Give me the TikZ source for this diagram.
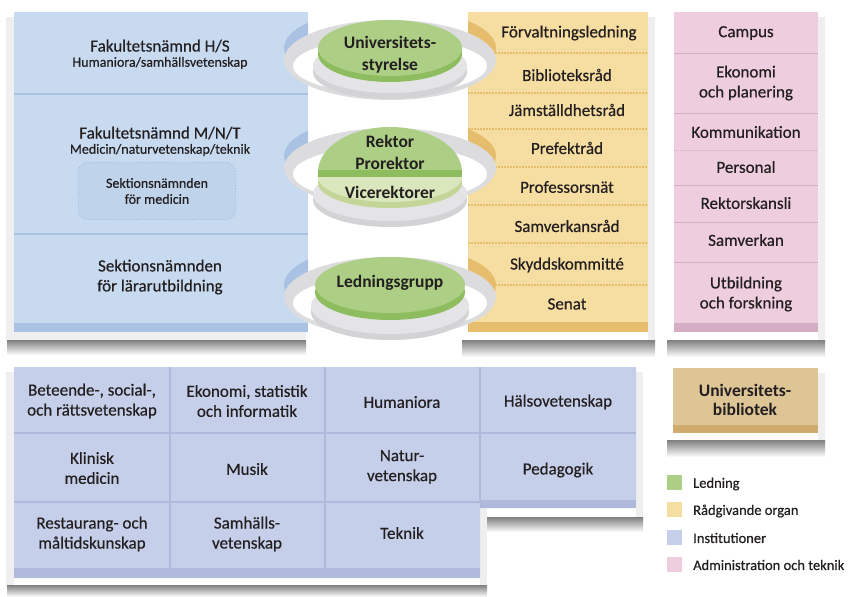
\documentclass[tikz,border=0pt]{standalone}
\usepackage{fontspec}
\setmainfont{Carlito}
\newfontfamily\medfont{Carlito}[FakeBold=0.5]

\definecolor{ink}{HTML}{231F20}
\definecolor{fakblue}{HTML}{C7DAEF}
\definecolor{fakband}{HTML}{A9C1E2}
\definecolor{fakbox}{HTML}{BFD3EB}
\definecolor{fakdot}{HTML}{9FB7D8}
\definecolor{radyellow}{HTML}{F6DDA1}
\definecolor{radband}{HTML}{E6BD6C}
\definecolor{admpink}{HTML}{EECDDE}
\definecolor{admband}{HTML}{D5ADC4}
\definecolor{instblue}{HTML}{C6CFE9}
\definecolor{instband}{HTML}{AEB9DB}
\definecolor{libtan}{HTML}{DEC596}
\definecolor{libband}{HTML}{CFAC6E}
\definecolor{ledgreen}{HTML}{ADCF85}
\definecolor{ledrim}{HTML}{8DBD5F}
\definecolor{vicegreen}{HTML}{DAE7BC}
\definecolor{vicerim}{HTML}{C3D597}
\definecolor{shade}{HTML}{E2E2E4}
\definecolor{shadelite}{HTML}{EFEFF0}
\definecolor{basetop}{HTML}{E4E4E6}
\definecolor{baseside}{HTML}{D3D3D6}
\definecolor{ring}{HTML}{DCDCDF}

\tikzset{
  lbl/.style={align=center, text=ink, inner sep=0pt, font=\medfont\fontsize{17}{20}\selectfont},
  sublbl/.style={lbl, font=\medfont\fontsize{14}{16}\selectfont},
  disklbl/.style={lbl, font=\bfseries\fontsize{17.5}{22}\selectfont},
  leglbl/.style={anchor=west, text=ink, inner sep=0pt, font=\medfont\fontsize{14.5}{16}\selectfont},
  legsq/.style={minimum size=15pt, inner sep=0pt},
}

\begin{document}
\begin{tikzpicture}[x=1pt,y=-1pt]
\useasboundingbox[fill=white] (0,0) rectangle (849,597);

% shadows of the upper panels
\fill[shadelite] (6,17) rectangle (14,340);
\fill[shadelite] (6,332) rectangle (306,340);
\fill[shade] (7,340) rectangle (306,355);
\fill[shadelite] (648,17) rectangle (655,340);
\fill[shade] (462,340) rectangle (655,357);
\fill[shadelite] (818,17) rectangle (825,340);
\fill[shade] (667,340) rectangle (825,357);

% faculty panel
\fill[fakblue] (14,12) rectangle (308,332);
\fill[fakband] (14,323) rectangle (308,332);
\draw[fakband, line width=1.3] (14,94) -- (308,94);
\draw[fakband, line width=1.3] (14,234) -- (308,234);

% advisory panel
\fill[radyellow] (468,12) rectangle (648,332);
\fill[radband] (468,322) rectangle (648,332);
\draw[radband, line width=1.3, dash pattern=on 2pt off 1pt] (468,53) -- (648,53);
\draw[radband, line width=1.3, dash pattern=on 2pt off 1pt] (468,93) -- (648,93);
\draw[radband, line width=1.3, dash pattern=on 2pt off 1pt] (468,129) -- (648,129);
\draw[radband, line width=1.3, dash pattern=on 2pt off 1pt] (468,167) -- (648,167);
\draw[radband, line width=1.3, dash pattern=on 2pt off 1pt] (468,205) -- (648,205);
\draw[radband, line width=1.3, dash pattern=on 2pt off 1pt] (468,243) -- (648,243);
\draw[radband, line width=1.3, dash pattern=on 2pt off 1pt] (468,285) -- (648,285);

% administration panel
\fill[admpink] (674,12) rectangle (818,332);
\fill[admband] (674,323) rectangle (818,332);
\draw[admband, line width=1] (674,53) -- (818,53);
\draw[admband, line width=1] (674,113) -- (818,113);
\draw[admband, line width=1, dash pattern=on 1pt off 1pt] (674,150) -- (818,150);
\draw[admband, line width=1] (674,185) -- (818,185);
\draw[admband, line width=1] (674,222) -- (818,222);
\draw[admband, line width=1] (674,262) -- (818,262);

% tabs where the rings go through the panels
\begin{scope}
\clip (14,12) rectangle (308,332);
\fill[fakband] (390,48) ellipse [x radius=106pt, y radius=40pt];
\fill[fakband] (390,156) ellipse [x radius=106pt, y radius=40pt];
\fill[fakband] (390,285) ellipse [x radius=106pt, y radius=40pt];
\end{scope}
\begin{scope}
\clip (468,12) rectangle (648,332);
\fill[radband] (390,48) ellipse [x radius=106pt, y radius=40pt];
\fill[radband] (390,156) ellipse [x radius=106pt, y radius=40pt];
\fill[radband] (390,285) ellipse [x radius=106pt, y radius=40pt];
\end{scope}

% rings
\fill[ring] (390,60) ellipse [x radius=106pt, y radius=40pt];
\fill[white] (390,66) ellipse [x radius=97pt, y radius=28pt];
\fill[ring] (390,168) ellipse [x radius=106pt, y radius=40pt];
\fill[white] (390,174) ellipse [x radius=97pt, y radius=28pt];
\fill[ring] (390,297) ellipse [x radius=106pt, y radius=40pt];
\fill[white] (390,303) ellipse [x radius=97pt, y radius=28pt];

% disk bases
\fill[baseside] (390,72) ellipse [x radius=77pt, y radius=27pt];
\fill[basetop] (390,66) ellipse [x radius=77pt, y radius=27pt];
\fill[baseside] (390,200) ellipse [x radius=77pt, y radius=27pt];
\fill[basetop] (390,194) ellipse [x radius=77pt, y radius=27pt];
\fill[baseside] (390,312) ellipse [x radius=79pt, y radius=28pt];
\fill[basetop] (390,306) ellipse [x radius=79pt, y radius=28pt];

% disks
\fill[ledrim] (390,54) ellipse [x radius=72pt, y radius=28pt];
\fill[ledgreen] (390,48) ellipse [x radius=72pt, y radius=28pt];

\fill[vicerim] (390,183) ellipse [x radius=72pt, y radius=25pt];
\fill[vicegreen] (390,177) ellipse [x radius=72pt, y radius=25pt];
\begin{scope}
\clip (300,100) rectangle (480,172);
\fill[ledgreen] (390,172) ellipse [x radius=72pt, y radius=45pt];
\end{scope}
\fill[ledrim] (318,170) rectangle (462,177);

\fill[ledrim] (390,292) ellipse [x radius=75pt, y radius=28pt];
\fill[ledgreen] (390,285) ellipse [x radius=75pt, y radius=28pt];

\node[disklbl] (Us)  at (390,55)  {Universitets-\\styrelse};
\node[disklbl] (Rp)  at (390,152) {Rektor\\Prorektor};
\node[disklbl] (Vr)  at (390,192) {Vicerektorer};
\node[disklbl] (Lg)  at (390,283) {Ledningsgrupp};

% faculty texts
\node[lbl] (Fhs)  at (160,46)  {Fakultetsnämnd H/S};
\node[sublbl] (Hs)  at (160,63)  {Humaniora/samhällsvetenskap};
\node[lbl] (Fmnt) at (160,133) {Fakultetsnämnd M/N/T};
\node[sublbl] (Mnt) at (160,150) {Medicin/naturvetenskap/teknik};
\node[sublbl, fill=fakbox, draw=fakdot, dotted, line width=0.8pt, rounded corners=9pt,
      minimum width=157pt, minimum height=57pt] (Smed) at (157,191)
      {Sektionsnämnden\\för medicin};
\node[lbl] (Slu)  at (160,277) {Sektionsnämnden\\för lärarutbildning};

% advisory texts
\node[lbl] (Fl)  at (569,33)  {Förvaltningsledning};
\node[lbl] (Br)  at (567,75)  {Biblioteksråd};
\node[lbl] (Jr)  at (567,110) {Jämställdhetsråd};
\node[lbl] (Pr)  at (567,148) {Prefektråd};
\node[lbl] (Pn)  at (567,187) {Professorsnät};
\node[lbl] (Sr)  at (567,226) {Samverkansråd};
\node[lbl] (Sk)  at (567,265) {Skyddskommitté};
\node[lbl] (Se)  at (567,304) {Senat};

% administration texts
\node[lbl] (Ca)  at (746,33)  {Campus};
\node[lbl] (Ep)  at (746,83)  {Ekonomi\\och planering};
\node[lbl] (Ko)  at (746,132) {Kommunikation};
\node[lbl] (Pe)  at (746,167) {Personal};
\node[lbl] (Rk)  at (746,203) {Rektorskansli};
\node[lbl] (Sa)  at (746,240) {Samverkan};
\node[lbl] (Uf)  at (746,294) {Utbildning\\och forskning};

% institutions
\fill[shadelite] (6,372) rectangle (14,585);
\fill[shade] (7,585) rectangle (487,597);
\fill[shadelite] (480,508) rectangle (487,585);
\fill[shadelite] (636,372) rectangle (643,517);
\fill[shade] (487,517) rectangle (643,532);
\fill[instblue] (14,367) -- (636,367) -- (636,508) -- (480,508) -- (480,578) -- (14,578) -- cycle;
\fill[instband] (14,568) rectangle (480,578);
\fill[instband] (480,500) rectangle (636,508);
\draw[instband, line width=1.3] (170,367) -- (170,568);
\draw[instband, line width=1.3] (325,367) -- (325,568);
\draw[instband, line width=1.3] (480,367) -- (480,500);
\draw[instband, line width=1.3] (14,433) -- (636,433);
\draw[instband, line width=1.3] (14,502) -- (480,502);

\node[lbl] (Bsr) at (92,401)  {Beteende-, social-,\\och rättsvetenskap};
\node[lbl] (Esi) at (247,401) {Ekonomi, statistik\\och informatik};
\node[lbl] (Hu)  at (402,402) {Humaniora};
\node[lbl] (Hv)  at (558,402) {Hälsovetenskap};
\node[lbl] (Km)  at (92,468)  {Klinisk\\medicin};
\node[lbl] (Mu)  at (247,469) {Musik};
\node[lbl] (Nv)  at (402,467) {Natur-\\vetenskap};
\node[lbl] (Pg)  at (558,470) {Pedagogik};
\node[lbl] (Rm)  at (92,534)  {Restaurang- och\\måltidskunskap};
\node[lbl] (Sv)  at (247,534) {Samhälls-\\vetenskap};
\node[lbl] (Te)  at (402,533) {Teknik};

% library
\fill[shadelite] (818,373) rectangle (825,440);
\fill[shade] (667,440) rectangle (825,457);
\fill[libtan] (673,368) rectangle (818,433);
\fill[libband] (673,425) rectangle (818,433);
\node[disklbl, font=\bfseries\fontsize{17.5}{19}\selectfont] (Ub) at (745,400) {Universitets-\\bibliotek};

% legend
\node[legsq, fill=ledgreen]  (Lsq1) at (674.5,482.5) {};
\node[legsq, fill=radyellow] (Lsq2) at (674.5,509.5) {};
\node[legsq, fill=instblue]  (Lsq3) at (674.5,537.5) {};
\node[legsq, fill=admpink]   (Lsq4) at (674.5,564.5) {};
\node[leglbl] (L1) at (693,484) {Ledning};
\node[leglbl] (L2) at (693,511) {Rådgivande organ};
\node[leglbl] (L3) at (693,538) {Institutioner};
\node[leglbl] (L4) at (693,565) {Administration och teknik};
\end{tikzpicture}
\end{document}
